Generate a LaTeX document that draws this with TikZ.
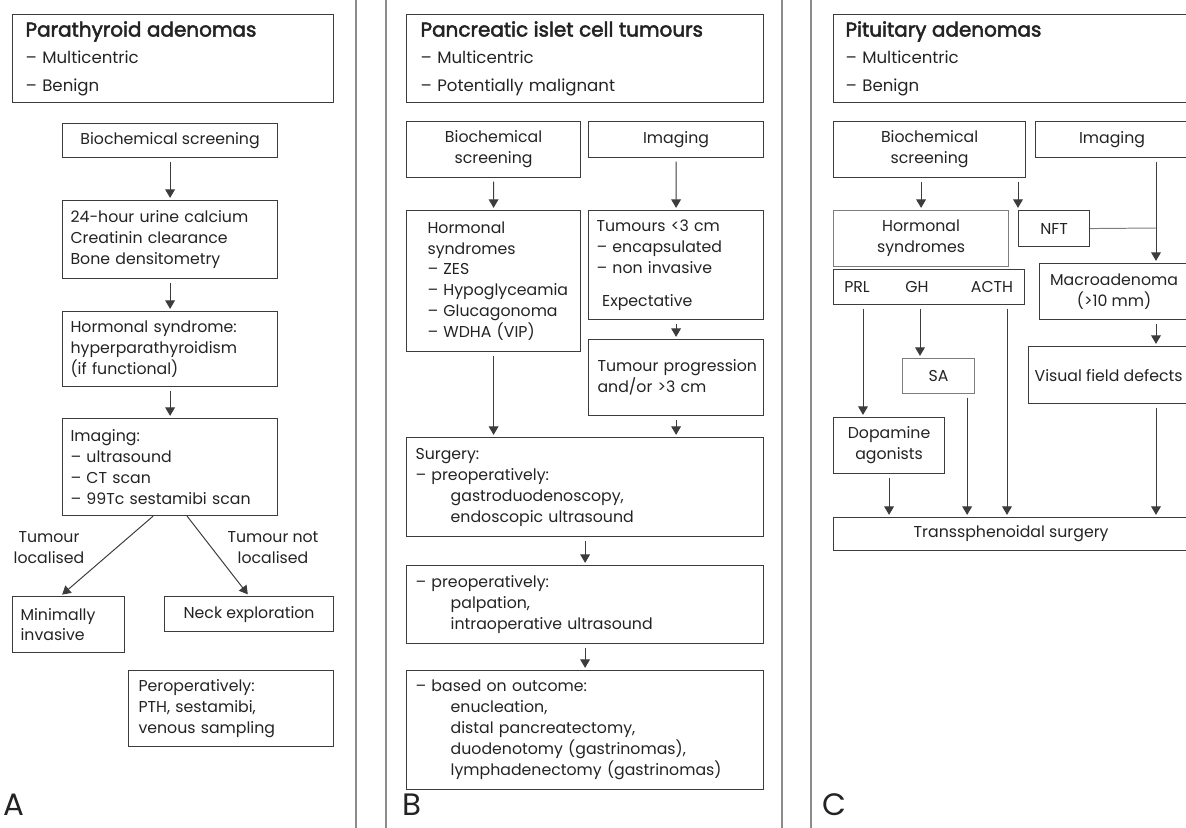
\documentclass[tikz,border=0pt]{standalone}
\usepackage{fontspec}
\setmainfont{Poppins}
\newfontfamily\titlefont{Poppins}[FakeBold=2.5]
\usetikzlibrary{arrows.meta,calc,positioning}
\definecolor{boxline}{RGB}{60,60,60}
\definecolor{softline}{RGB}{125,125,125}
\definecolor{divgray}{RGB}{140,140,140}
\definecolor{inkgray}{RGB}{35,35,35}
\newcommand{\bodysize}{\fontsize{11.2}{14.9}\selectfont}
\newcommand{\headsize}{\fontsize{11.8}{19.5}\selectfont}
\newcommand{\headline}[1]{{\titlefont\fontsize{14.2}{19.5}\selectfont #1}}
\newcommand{\indnt}{\hspace*{25pt}}

\begin{document}
\begin{tikzpicture}[
    x=0.025cm, y=-0.025cm,
    box/.style={draw=boxline, line width=0.8pt, anchor=north west, inner ysep=0pt, text=inkgray, font=\bodysize},
    cbox/.style 2 args={box, minimum width=#1, minimum height=#2, inner xsep=0pt, align=center},
    lbox/.style n args={3}{box, minimum height=#1, text width=#2, inner xsep=#3, align=left},
    note/.style={align=center, inner sep=0pt, text=inkgray, font=\bodysize},
    tag/.style={inner sep=0pt, text=inkgray, font=\bodysize},
    panel/.style={anchor=base west, inner sep=0pt, text=inkgray, font=\fontsize{22}{22}\selectfont},
    arrow/.style={-{Triangle[length=2.1mm,width=2.4mm]}, line width=0.7pt, draw=boxline, shorten <=2.5pt, shorten >=1.5pt},
    link/.style={line width=0.7pt, draw=softline},
    divider/.style={line width=1.4pt, draw=divgray}
]
\useasboundingbox (0,0) rectangle (1186,828);
\clip (0,0) rectangle (1186,828);

% Column dividers
\draw[divider] (356,0) -- (356,828);
\draw[divider] (386,0) -- (386,828);
\draw[divider] (782,0) -- (782,828);
\draw[divider] (811,0) -- (811,828);

% A: parathyroid
\node[lbox={22mm}{73.75mm}{3.25mm}, font=\headsize] (atitle) at (12,14) {\headline{Parathyroid adenomas}\\– Multicentric\\– Benign};
\node[cbox={53.75mm}{8.5mm}] (abio) at (62,123) {Biochemical screening};
\node[lbox={19.5mm}{49.75mm}{2mm}] (atests) at (62,200) {24-hour urine calcium\\Creatinin clearance\\Bone densitometry};
\node[lbox={18.75mm}{49.75mm}{2mm}] (ahorm) at (62,311) {Hormonal syndrome:\\hyperparathyroidism\\(if functional)};
\node[lbox={24.25mm}{49.75mm}{2mm}] (aimg) at (62,418) {Imaging:\\– ultrasound\\– CT scan\\– 99Tc sestamibi scan};
\node[lbox={14mm}{24mm}{2mm}] (amin) at (12,596) {Minimally\\invasive};
\node[cbox={42.25mm}{8.75mm}] (aneck) at (164,596) {Neck exploration};
\node[lbox={19mm}{46.25mm}{2.5mm}] (aperop) at (128,670) {Peroperatively:\\PTH, sestamibi,\\venous sampling};
\node[note] (aloc) at (49,548) {Tumour\\localised};
\node[note] (anotloc) at (273,548) {Tumour not\\localised};
\node[panel] (alabel) at (3,815) {A};

\draw[arrow] (abio) -- (atests);
\draw[arrow] (atests) -- (ahorm);
\draw[arrow] (ahorm) -- (aimg);
\draw[arrow, shorten <=0pt] ($(aimg.south)+(-17,0)$) -- ($(amin.north)+(-8,0)$);
\draw[arrow, shorten <=0pt] ($(aimg.south)+(17,0)$) -- (aneck.north);

% B: pancreatic islet cells
\node[lbox={22mm}{82.25mm}{3.5mm}, font=\headsize] (btitle) at (406,14) {\headline{Pancreatic islet cell tumours}\\– Multicentric\\– Potentially malignant};
\node[cbox={43.5mm}{14mm}] (bbio) at (406,121) {Biochemical\\screening};
\node[cbox={43.75mm}{9mm}] (bimg) at (588,121) {Imaging};
\node[lbox={35.25mm}{33mm}{5.25mm}] (bhorm) at (406,210) {Hormonal\\syndromes\\– ZES\\\mbox{– Hypoglyceamia}\\\mbox{– Glucagonoma}\\\mbox{– WDHA (VIP)}};
\node[lbox={27.25mm}{39.75mm}{2mm}] (btum) at (588,210) {Tumours <3 cm\\– encapsulated\\– non invasive\\[8.5pt]\hspace*{4pt}Expectative};
\node[lbox={19mm}{39.25mm}{2.25mm}] (bprog) at (588,339) {\mbox{Tumour progression}\\and/or >3 cm};
\node[lbox={24.75mm}{84.75mm}{2.25mm}] (bsurg) at (406,437) {Surgery:\\– preoperatively:\\\indnt gastroduodenoscopy,\\\indnt endoscopic ultrasound};
\node[lbox={19.5mm}{84.75mm}{2.25mm}] (bpreop) at (406,565) {– preoperatively:\\\indnt palpation,\\\indnt intraoperative ultrasound};
\node[lbox={29.75mm}{84.75mm}{2.25mm}] (bout) at (406,670) {– based on outcome:\\\indnt enucleation,\\\indnt distal pancreatectomy,\\\indnt duodenotomy (gastrinomas),\\\indnt lymphadenectomy (gastrinomas)};
\node[panel] (blabel) at (402,815) {B};

\draw[arrow] (bbio) -- (bhorm);
\draw[arrow] (bimg) -- (btum);
\draw[arrow] (btum) -- (bprog);
\draw[arrow] (bhorm) -- (bhorm |- bsurg.north);
\draw[arrow] (bprog) -- (bprog |- bsurg.north);
\draw[arrow] (bsurg) -- (bpreop);
\draw[arrow] (bpreop) -- (bout);

% C: pituitary
\node[lbox={22mm}{83mm}{3mm}, font=\headsize] (ctitle) at (833,14) {\headline{Pituitary adenomas}\\– Multicentric\\– Benign};
\node[cbox={48mm}{14mm}] (cbio) at (833,121) {Biochemical\\screening};
\node[cbox={38.25mm}{9mm}] (cimg) at (1035,121) {Imaging};
\node[cbox={43.75mm}{14mm}, draw=softline] (chorm) at (833,210) {Hormonal\\syndromes};
\node[cbox={17.75mm}{9mm}] (cnft) at (1018,210) {NFT};
\node[cbox={47.75mm}{8.75mm}] (cprl) at (833,269) {};
\node[tag] (cprltxt) at (857,287) {PRL};
\node[tag] (cghtxt) at (917,287) {GH};
\node[tag] (cacthtxt) at (992,287) {ACTH};
\node[cbox={37.25mm}{14mm}] (cmacro) at (1039,263) {Macroadenoma\\(>10 mm)};
\node[cbox={40mm}{14.25mm}] (cvis) at (1028,346) {Visual field defects};
\node[cbox={18mm}{8.75mm}, draw=softline] (csa) at (902,358) {SA};
\node[cbox={27.75mm}{14mm}] (cdop) at (833,417) {Dopamine\\agonists};
\node[cbox={88.75mm}{8.25mm}] (csurg) at (833,517) {Transsphenoidal surgery};
\node[panel] (clabel) at (822,815) {C};
\coordinate (cjoin) at (1156,228);

\draw[arrow] (cbio.south -| chorm.north) -- (chorm.north);
\draw[arrow] (cbio.south -| cnft.north west) -- (cnft.north west);
\draw[link] (cnft.east) -- (cjoin);
\draw[arrow] (cimg.south -| cjoin) -- (cmacro.north -| cjoin);
\draw[arrow] (cmacro.south -| cjoin) -- (cvis.north -| cjoin);
\draw[arrow] (cvis.south -| cjoin) -- (csurg.north -| cjoin);
\draw[arrow] ($(cprl.south west)+(30,0)$) -- ($(cdop.north west)+(30,0)$);
\draw[arrow] ($(cprl.south -| cghtxt)+(3,0)$) -- ($(csa.north -| cghtxt)+(3,0)$);
\draw[arrow] ($(cprl.south -| cacthtxt)+(15,0)$) -- ($(csurg.north -| cacthtxt)+(15,0)$);
\draw[arrow] ($(csa.south east)+(-8,0)$) -- ($(csa.south east |- csurg.north)+(-8,0)$);
\draw[arrow] (cdop.south) -- (cdop.south |- csurg.north);

\end{tikzpicture}
\end{document}
